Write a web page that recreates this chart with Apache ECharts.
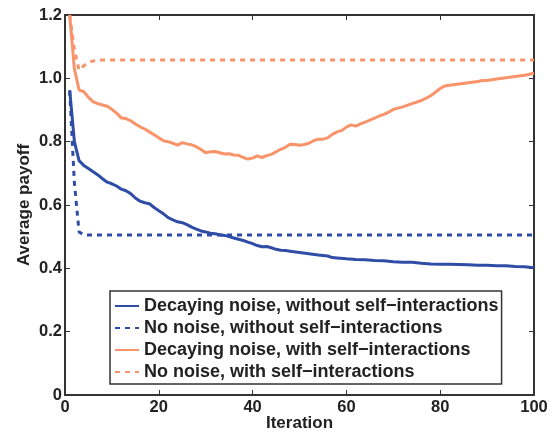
<!DOCTYPE html>
<html lang="en">
<head>
<meta charset="UTF-8">
<title>Average payoff</title>
<style type="text/css">
body,html{ width:100%; height:100%; margin:0; padding:0; background:#fff; }
#container{ width:555px; height:433px; }
</style>
</head>
<body>
<div id="container"></div>
<script type="text/javascript" src="https://cdn.jsdelivr.net/npm/echarts@6/dist/echarts.min.js"></script>
<script type="text/javascript">
// series names
var names = [
	'Decaying noise, without self\u2212interactions',
	'No noise, without self\u2212interactions',
	'Decaying noise, with self\u2212interactions',
	'No noise, with self\u2212interactions'
];
var xTicks = [0, 20, 40, 60, 80, 100];
var yTicks = [0, 0.2, 0.4, 0.6, 0.8, 1.0, 1.2];

// decaying noise, without self-interactions (blue solid)
var blueSolidX = [1,2,3,4,5,6,7,8,9,10,11,12,13,14,15,16,17,18,19,20,21,22,23,24,25,26,27,28,29,30,31,32,33,34,35,36,37,38,39,40,41,42,43,44,45,46,47,48,50,52,54,56,57,58,60,62,64,66,68,70,72,74,76,78,80,82,84,86,88,90,92,94,96,98,100];
var blueSolidY = [0.963,0.80,0.74,0.725,0.715,0.705,0.695,0.683,0.672,0.667,0.660,0.650,0.645,0.636,0.622,0.612,0.607,0.604,0.592,0.582,0.572,0.560,0.553,0.547,0.544,0.538,0.530,0.524,0.518,0.515,0.511,0.509,0.506,0.504,0.500,0.496,0.492,0.488,0.483,0.478,0.472,0.468,0.469,0.465,0.460,0.457,0.456,0.454,0.450,0.446,0.442,0.439,0.434,0.433,0.430,0.428,0.427,0.425,0.424,0.421,0.419,0.419,0.416,0.414,0.413,0.413,0.412,0.411,0.410,0.410,0.408,0.408,0.406,0.405,0.402];

// no noise, without self-interactions (blue dotted)
var blueDotX = [1,2,3,4,5,10,20,30,40,50,60,70,80,90,100];
var blueDotY = [0.96,0.67,0.515,0.506,0.505,0.505,0.505,0.505,0.505,0.505,0.505,0.505,0.505,0.505,0.505];

// decaying noise, with self-interactions (orange solid)
var orangeSolidX = [1,2,3,4,5,6,7,8,9,10,11,12,13,14,15,16,17,18,19,20,21,22,23,24,25,26,27,28,29,30,31,32,33,34,35,36,37,38,39,40,41,42,43,44,45,46,47,48,49,50,51,52,53,54,55,56,57,58,59,60,61,62,63,64,65,66,67,68,69,70,72,74,76,78,80,81,82,84,86,88,89,90,92,94,96,98,100];
var orangeSolidY = [1.20,1.03,0.963,0.958,0.940,0.926,0.920,0.916,0.912,0.902,0.890,0.875,0.873,0.866,0.856,0.847,0.840,0.831,0.822,0.812,0.803,0.800,0.795,0.789,0.797,0.793,0.790,0.784,0.775,0.765,0.768,0.769,0.765,0.761,0.762,0.758,0.757,0.750,0.745,0.748,0.755,0.750,0.756,0.760,0.768,0.776,0.782,0.792,0.791,0.789,0.791,0.795,0.803,0.808,0.808,0.812,0.823,0.831,0.835,0.846,0.853,0.849,0.856,0.862,0.868,0.874,0.881,0.886,0.893,0.902,0.910,0.920,0.930,0.945,0.968,0.976,0.978,0.982,0.986,0.990,0.993,0.993,0.998,1.002,1.006,1.010,1.016];

// no noise, with self-interactions (orange dotted)
var orangeDotX = [1,2,3,4,5,6,7,8,10,20,30,40,50,60,70,80,90,100];
var orangeDotY = [1.20,1.09,1.026,1.04,1.05,1.055,1.057,1.058,1.058,1.058,1.058,1.058,1.058,1.058,1.058,1.058,1.058,1.058];

var BLUE = '#2f4da6';
var ORANGE = '#f8936a';
var AXIS = '#333333';
var TEXT = '#222222';
var FONT = 'Liberation Sans, Arial, sans-serif';

function pairs(xs, ys) {
	return xs.map(function (x, i) { return [x, ys[i]]; });
}

function lineSeries(name, xs, ys, color, dotted) {
	return {
		name: name,
		type: 'line',
		xAxisIndex: 0,
		yAxisIndex: 0,
		showSymbol: false,
		symbol: 'none',
		smooth: false,
		data: pairs(xs, ys),
		lineStyle: {
			color: color,
			width: 3,
			type: dotted ? [5, 5] : 'solid'
		},
		itemStyle: { color: color },
		z: dotted ? 2 : 3
	};
}

var frameAxis = {
	nameMoveOverlap: false,
	axisLine: { show: true, onZero: false, lineStyle: { color: AXIS, width: 2 } },
	axisTick: { show: true, inside: true, length: 5, lineStyle: { color: AXIS, width: 1 } },
	splitLine: { show: false }
};

var option = {
	backgroundColor: '#ffffff',
	animation: false,
	grid: { left: 65, right: 21, top: 15, bottom: 38, outerBoundsMode: 'none', containLabel: false },
	legend: {
		orient: 'vertical',
		left: 110,
		top: 291,
		padding: [6, 3, 3, 4],
		itemWidth: 24,
		itemHeight: 14,
		itemGap: 4,
		borderColor: AXIS,
		borderWidth: 1.5,
		backgroundColor: '#ffffff',
		itemStyle: { opacity: 0 },
		textStyle: { color: TEXT, fontSize: 18, lineHeight: 18, fontWeight: 'bold', fontFamily: FONT },
		data: names
	},
	xAxis: [
		Object.assign({
			type: 'value', position: 'bottom', min: xTicks[0], max: xTicks[xTicks.length - 1], interval: 20,
			name: 'Iteration', nameLocation: 'middle', nameGap: 20,
			nameTextStyle: { color: TEXT, fontSize: 17, fontWeight: 'bold', fontFamily: FONT },
			axisLabel: { color: TEXT, fontSize: 16.5, fontWeight: 'bold', fontFamily: FONT, margin: 4 }
		}, frameAxis),
		Object.assign({
			type: 'value', position: 'top', min: xTicks[0], max: xTicks[xTicks.length - 1], interval: 20,
			axisLabel: { show: false }
		}, frameAxis)
	],
	yAxis: [
		Object.assign({
			type: 'value', position: 'left', min: yTicks[0], max: yTicks[yTicks.length - 1], interval: 0.2,
			name: 'Average payoff', nameLocation: 'middle', nameGap: 32,
			nameTextStyle: { color: TEXT, fontSize: 17, fontWeight: 'bold', fontFamily: FONT },
			axisLabel: {
				color: TEXT, fontSize: 16.5, fontWeight: 'bold', fontFamily: FONT, margin: 3,
				formatter: function (v) { return v === 0 ? '0' : v.toFixed(1); }
			}
		}, frameAxis),
		Object.assign({
			type: 'value', position: 'right', min: yTicks[0], max: yTicks[yTicks.length - 1], interval: 0.2,
			axisLabel: { show: false }
		}, frameAxis)
	],
	series: [
		lineSeries(names[0], blueSolidX, blueSolidY, BLUE, false),
		lineSeries(names[1], blueDotX, blueDotY, BLUE, true),
		lineSeries(names[2], orangeSolidX, orangeSolidY, ORANGE, false),
		lineSeries(names[3], orangeDotX, orangeDotY, ORANGE, true)
	]
};

var chart = echarts.init(document.getElementById('container'));
chart.setOption(option, true);
</script>
</body>
</html>
